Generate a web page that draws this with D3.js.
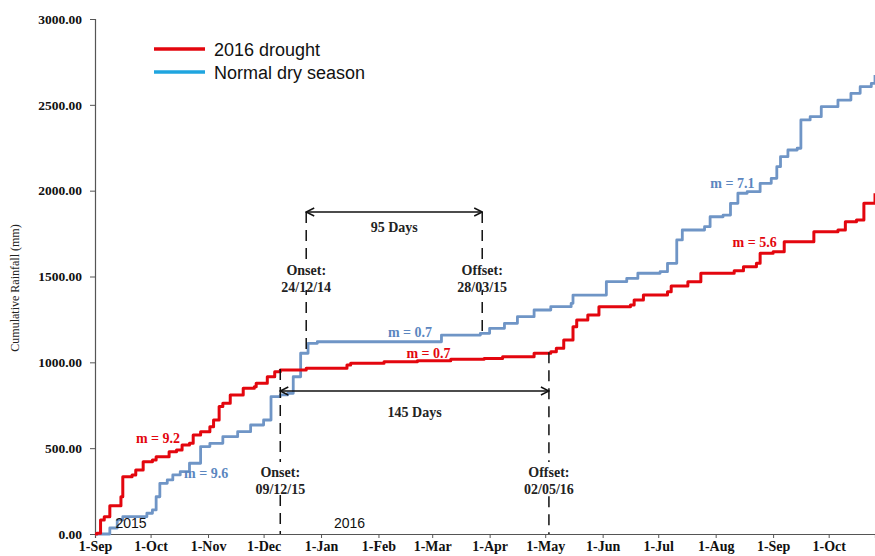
<!DOCTYPE html>
<html>
<head>
<meta charset="utf-8">
<script src="https://cdn.jsdelivr.net/npm/d3@7"></script>
<style>
  html, body { margin: 0; padding: 0; background: #fff; }
  svg { display: block; }
</style>
</head>
<body>
<svg id="chart" width="875" height="556"></svg>
<script>
// ---- Data ----
// day offsets from 1-Sep-2015 and cumulative rainfall (mm)
const droughtDays = [0,1,3,5,8,11,14,15,20,22,26,31,33,40,44,47,51,53,57,62,64,67,69,73,80,86,87,93,97,100,105,114,136,138,156,174,192,210,220,237,246,249,253,258,260,266,272,289,291,296,309,311,320,327,345,350,357,359,366,372,388,401,405,411,415,421];
const droughtRain = [0,4,82,101,165,165,217,334,344,373,421,431,450,479,489,518,528,577,596,625,664,742,761,810,849,858,878,916,945,955,955,965,984,994,1004,1009,1018,1023,1033,1053,1062,1082,1130,1208,1247,1276,1324,1334,1363,1392,1411,1445,1470,1519,1534,1557,1577,1635,1644,1703,1761,1771,1819,1829,1926,1985];

const normalDays = [0,4,5,8,12,15,28,31,33,35,39,42,46,51,57,62,69,77,84,91,95,100,104,107,111,115,120,183,187,208,213,221,228,237,246,257,258,271,276,287,293,305,309,314,317,329,332,339,343,347,352,359,365,368,370,374,379,381,386,392,401,408,413,419,421];
const normalRain = [0,0,0,35,82,101,121,140,217,295,315,344,363,412,509,528,567,596,635,664,800,810,820,916,1053,1111,1120,1120,1159,1169,1198,1227,1266,1305,1324,1344,1392,1392,1470,1489,1519,1528,1577,1713,1771,1790,1848,1858,1926,1985,1994,2043,2072,2140,2198,2237,2247,2412,2431,2489,2528,2567,2606,2625,2674];

const yTicks = [0,500,1000,1500,2000,2500,3000];
const xTickDates = ["2015-09-01","2015-10-01","2015-11-01","2015-12-01","2016-01-01","2016-02-01","2016-03-01","2016-04-01","2016-05-01","2016-06-01","2016-07-01","2016-08-01","2016-09-01","2016-10-01"];
const seriesNames = ["2016 drought","Normal dry season"];

// Onset / offset markers
const normalOnset = "2015-12-24", normalOffset = "2016-03-28";
const droughtOnset = "2015-12-10", droughtOffset = "2016-05-03";
const normalLabels = ["Onset:","24/12/14","Offset:","28/03/15","95 Days"];
const droughtLabels = ["Onset:","09/12/15","Offset:","02/05/16","145 Days"];
const slopeLabels = [
  {t:"m = 9.2", s:0, d:"2015-10-05", v:530},
  {t:"m = 9.6", s:1, d:"2015-10-31", v:328},
  {t:"m = 0.7", s:1, d:"2016-02-18", v:1149},
  {t:"m = 0.7", s:0, d:"2016-02-28", v:1027},
  {t:"m = 7.1", s:1, d:"2016-08-10", v:2015},
  {t:"m = 5.6", s:0, d:"2016-08-22", v:1674}
];

// ---- Drawing ----
const parse = d3.timeParse("%Y-%m-%d");
const start = parse("2015-09-01");
const svg = d3.select("#chart");
const x = d3.scaleTime().domain([start, parse("2016-10-26")]).range([95, 875]);
const y = d3.scaleLinear().domain([0, 3000]).range([534, 19]);

const red = "#e3060e", blueLine = "#6f95c6", blueLegend = "#1fa5df", blueText = "#5b86bf";
const serif = "'Liberation Serif','Times New Roman',serif";
const sans = "'Liberation Sans',Arial,sans-serif";

// axes
const yAxis = svg.append("g").attr("transform","translate(95,0)")
  .call(d3.axisLeft(y).tickValues(yTicks).tickFormat(d3.format(".2f")).tickSize(5).tickPadding(8));
const xAxis = svg.append("g").attr("transform","translate(0,534)")
  .call(d3.axisBottom(x).tickValues(xTickDates.map(parse)).tickFormat(d3.timeFormat("%-d-%b")).tickSize(4).tickPadding(3));
[yAxis, xAxis].forEach(g => {
  g.select(".domain").attr("stroke","#555").attr("stroke-width",1.2);
  g.selectAll(".tick line").attr("stroke","#555");
  g.selectAll("text").attr("font-family",serif).attr("font-weight","bold").attr("font-size",14).attr("fill","#111");
});
yAxis.selectAll("text").attr("font-size",13.5);

svg.append("text").attr("transform","translate(19,288) rotate(-90)")
  .attr("text-anchor","middle").attr("font-family",serif).attr("font-size",12).attr("fill","#222")
  .text("Cumulative Rainfall (mm)");

// series
const line = d3.line().curve(d3.curveStepAfter)
  .x(d => x(d3.timeDay.offset(start, d[0]))).y(d => y(d[1]));
svg.append("path").datum(normalDays.map((d,i)=>[d, normalRain[i]]))
  .attr("d", line).attr("fill","none").attr("stroke",blueLine).attr("stroke-width",2.8).attr("stroke-linejoin","round");
svg.append("path").datum(droughtDays.map((d,i)=>[d, droughtRain[i]]))
  .attr("d", line).attr("fill","none").attr("stroke",red).attr("stroke-width",3).attr("stroke-linejoin","round");

// legend
[[red, 49], [blueLegend, 72]].forEach((c, i) => {
  svg.append("line").attr("x1",154).attr("x2",205).attr("y1",c[1]).attr("y2",c[1])
    .attr("stroke",c[0]).attr("stroke-width",3.5);
  svg.append("text").attr("x",214).attr("y",c[1]+6.5).attr("font-family",sans).attr("font-size",18)
    .attr("fill","#111").text(seriesNames[i]);
});

// markers
const defs = svg.append("defs");
function arrowHead(id, orient) {
  defs.append("marker").attr("id",id).attr("viewBox","0 0 10 10").attr("refX",orient==="start"?1:9).attr("refY",5)
    .attr("markerWidth",10).attr("markerHeight",10).attr("markerUnits","userSpaceOnUse").attr("orient","auto")
    .append("path").attr("d", orient==="start" ? "M9,1 L1,5 L9,9" : "M1,1 L9,5 L1,9")
    .attr("fill","none").attr("stroke","#111").attr("stroke-width",1.4);
}
arrowHead("aStart","start"); arrowHead("aEnd","end");

function valueAt(days, rain, date) {
  const dd = d3.timeDay.count(start, parse(date));
  let v = 0;
  for (let i = 0; i < days.length; i++) if (days[i] <= dd) v = rain[i];
  return v;
}

function marker(date, y1, y2, lbl1, lbl2, labelY) {
  const xx = x(parse(date));
  svg.append("line").attr("x1",xx).attr("x2",xx).attr("y1",y1).attr("y2",y2)
    .attr("stroke","#111").attr("stroke-width",1.5).attr("stroke-dasharray","11,7");
  svg.append("rect").attr("x",xx-30).attr("y",labelY-10).attr("width",60).attr("height",30).attr("fill","#fff");
  const t = svg.append("text").attr("x",xx).attr("text-anchor","middle").attr("font-family",serif)
    .attr("font-weight","bold").attr("font-size",14).attr("fill","#222");
  t.append("tspan").attr("x",xx).attr("y",labelY+5).text(lbl1);
  t.append("tspan").attr("x",xx).attr("y",labelY+21.5).text(lbl2);
}
function span(d1, d2, yy, label, labelY) {
  svg.append("line").attr("x1",x(parse(d1))).attr("x2",x(parse(d2))).attr("y1",yy).attr("y2",yy)
    .attr("stroke","#111").attr("stroke-width",1.4).attr("marker-start","url(#aStart)").attr("marker-end","url(#aEnd)");
  svg.append("text").attr("x",(x(parse(d1))+x(parse(d2)))/2).attr("y",labelY+5).attr("text-anchor","middle")
    .attr("font-family",serif).attr("font-weight","bold").attr("font-size",14).attr("fill","#222").text(label);
}

// normal dry season markers
marker(normalOnset, 212, y(valueAt(normalDays, normalRain, normalOnset)) - 1, normalLabels[0], normalLabels[1], 270);
marker(normalOffset, 212, y(valueAt(normalDays, normalRain, normalOffset)) + 2, normalLabels[2], normalLabels[3], 270);
span(normalOnset, normalOffset, 212, normalLabels[4], 227);

// drought markers
marker(droughtOnset, y(valueAt(droughtDays, droughtRain, droughtOnset)) - 1, 534, droughtLabels[0], droughtLabels[1], 472);
marker(droughtOffset, y(valueAt(droughtDays, droughtRain, droughtOffset)) - 1, 534, droughtLabels[2], droughtLabels[3], 472);
span(droughtOnset, droughtOffset, 391, droughtLabels[4], 412);

// slope labels
slopeLabels.forEach(s => {
  svg.append("text").attr("x", x(parse(s.d))).attr("y", y(s.v)).attr("text-anchor","middle")
    .attr("font-family",serif).attr("font-weight","bold").attr("font-size",14)
    .attr("fill", s.s === 0 ? red : blueText).text(s.t);
});

// year labels
[["2015","2015-09-12"],["2016","2016-01-08"]].forEach(l => {
  svg.append("text").attr("x", x(parse(l[1]))).attr("y", 528).attr("font-family",sans).attr("font-size",14)
    .attr("fill","#111").text(l[0]);
});
</script>
</body>
</html>
